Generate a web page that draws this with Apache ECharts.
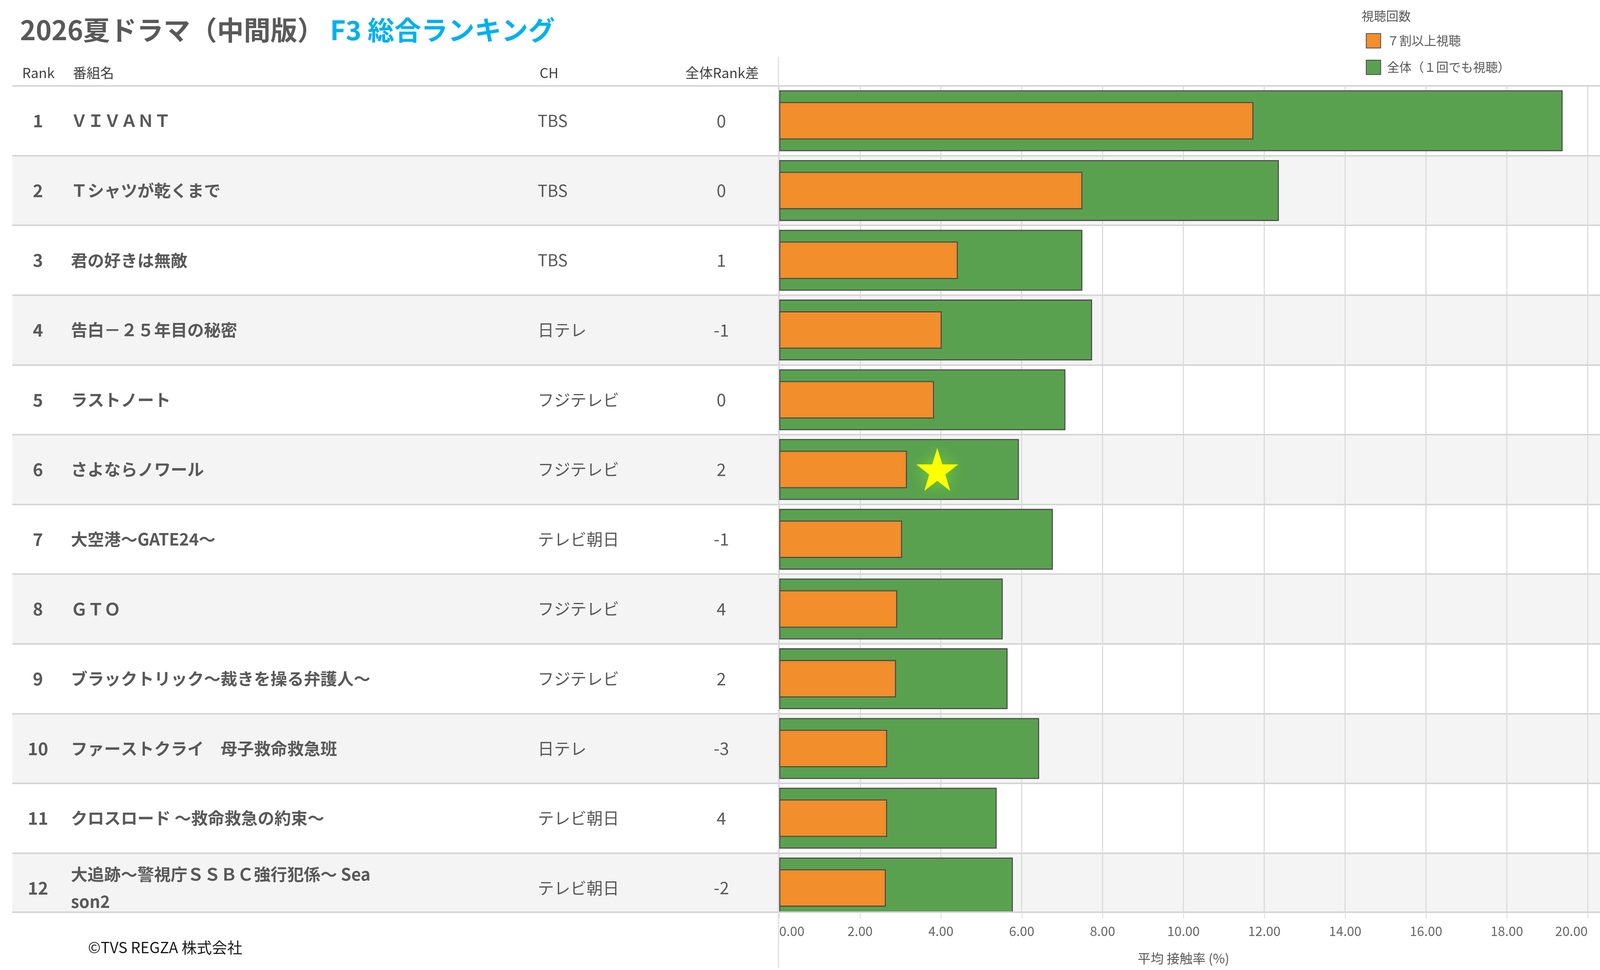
<!DOCTYPE html>
<html>
<head>
<meta charset="utf-8" />
<title>2026夏ドラマ（中間版） F3 総合ランキング</title>
<script src="https://cdn.jsdelivr.net/npm/echarts@6/dist/echarts.min.js"></script>
<style>html,body{margin:0;padding:0;background:#fff;overflow:hidden;}</style>
</head>
<body>
<div id="main" style="width:100vw;height:100vh"></div>
<script type="text/javascript">
// table columns
var ranks = ['1', '2', '3', '4', '5', '6', '7', '8', '9', '10', '11', '12'];
var names = [
  'ＶＩＶＡＮＴ',
  'Ｔシャツが乾くまで',
  '君の好きは無敵',
  '告白－２５年目の秘密',
  'ラストノート',
  'さよならノワール',
  '大空港～GATE24～',
  'ＧＴＯ',
  'ブラックトリック～裁きを操る弁護人～',
  'ファーストクライ　母子救命救急班',
  'クロスロード ～救命救急の約束～',
  '大追跡～警視庁ＳＳＢＣ強行犯係～ Sea\nson2'
];
var channels = ['TBS', 'TBS', 'TBS', '日テレ', 'フジテレビ', 'フジテレビ', 'テレビ朝日', 'フジテレビ', 'フジテレビ', '日テレ', 'テレビ朝日', 'テレビ朝日'];
var rankDiff = ['0', '0', '1', '-1', '0', '2', '-1', '4', '2', '-3', '4', '-2'];
var headerLabels = ['Rank', '番組名', 'CH', '全体Rank差'];

// 平均接触率 (%)
var seriesNames = ['７割以上視聴', '全体（１回でも視聴）'];
var freqRate = [11.73, 7.50, 4.42, 4.02, 3.83, 3.16, 3.04, 2.92, 2.89, 2.67, 2.67, 2.64];
var totalRate = [19.38, 12.36, 7.50, 7.74, 7.08, 5.93, 6.77, 5.53, 5.65, 6.43, 5.38, 5.78];
var starRank = ['6'];
var starValue = [3.91];

var FONT = "'Noto Sans CJK JP', 'Noto Sans', sans-serif";
var TEXT = '#595959';

var dom = document.getElementById('main');
var myChart = echarts.init(dom);

// layout was measured on a 4425 x 2484 picture, scale it to whatever we got
var W = dom.clientWidth, H = dom.clientHeight;
var sx = W / 4425, sy = H / 2484, sf = Math.min(sx, sy);
function X(v) { return v * sx; }
function Y(v) { return v * sy; }
function F(v) { return Math.round(v * sf * 10) / 10; }

var ROW_TOP = Y(220), ROW_H = Y(178.6);
var gridH = ROW_H * ranks.length;
var CUT_Y = Y(2336); // the view is cut off inside the last row

function labelAxis(margin, align, list, style) {
  return {
    type: 'category', gridIndex: 0, position: 'left', inverse: true, data: ranks,
    axisLine: { show: false }, axisTick: { show: false }, splitLine: { show: false },
    axisLabel: Object.assign({
      inside: true, interval: 0, margin: X(margin), align: align, color: TEXT, fontFamily: FONT,
      formatter: function (v, i) { return list[i]; }
    }, style)
  };
}

var rankAxis = labelAxis(71, 'center', ranks, { fontSize: F(48), fontWeight: 'bold' });
rankAxis.splitArea = { show: true, areaStyle: { color: ['#ffffff', '#f4f4f4'] } };
rankAxis.splitLine = { show: true, lineStyle: { color: '#d5d5d5', width: Y(4) } };

var headerLeft = [56, 196, 1487, 1890];
var titles = [{
  text: '{a|2026夏ドラマ（中間版）}{b| F3 総合ランキング}',
  left: X(50), top: Y(38),
  textStyle: { rich: {
    a: { fontSize: F(74), fontWeight: 'bold', color: '#595959', fontFamily: FONT },
    b: { fontSize: F(74), fontWeight: 'bold', color: '#00b0f0', fontFamily: FONT }
  } }
}, {
  text: '視聴回数', left: X(3760), top: Y(20),
  textStyle: { fontSize: F(34), fontWeight: 'normal', color: TEXT, fontFamily: FONT }
}, {
  text: '©TVS REGZA 株式会社', left: X(238), top: Y(2402),
  textStyle: { fontSize: F(42), fontWeight: 'normal', color: '#1a1a1a', fontFamily: FONT }
}];
headerLabels.forEach(function (h, i) {
  titles.push({
    text: h, left: X(headerLeft[i]), top: Y(164),
    textStyle: { fontSize: F(38), fontWeight: 'normal', color: '#404040', fontFamily: FONT }
  });
});

var option = {
  animation: false,
  backgroundColor: '#ffffff',
  textStyle: { fontFamily: FONT },
  title: titles,
  legend: {
    data: seriesNames,
    orient: 'vertical', left: X(3772), top: Y(80),
    icon: 'rect', itemWidth: F(40), itemHeight: F(40), itemGap: Y(29),
    textStyle: { fontSize: F(34), color: TEXT, fontFamily: FONT, padding: [0, 0, 0, X(12)] }
  },
  grid: [
    { left: X(34), right: 0, top: ROW_TOP, height: gridH },
    { left: X(2155), right: X(34), top: ROW_TOP, height: gridH }
  ],
  xAxis: [
    { type: 'value', gridIndex: 0, show: false },
    {
      type: 'value', gridIndex: 1, position: 'top', min: 0, max: 20, interval: 2,
      axisLine: { show: false }, axisTick: { show: false }, axisLabel: { show: false },
      splitLine: { show: true, lineStyle: { color: '#dadada', width: X(3) } }
    },
    {
      type: 'value', gridIndex: 1, position: 'bottom', min: 0, max: 20, interval: 2,
      offset: CUT_Y - (ROW_TOP + gridH), z: 200,
      name: '平均 接触率 (%)', nameLocation: 'middle', nameGap: Y(102),
      nameTextStyle: { fontSize: F(36), color: TEXT, fontFamily: FONT },
      axisLine: { show: false },
      axisTick: { show: true, length: Y(16), lineStyle: { color: '#dadada', width: X(2) } },
      splitLine: { show: false },
      axisLabel: {
        fontSize: F(36), color: '#666666', margin: Y(32), fontFamily: FONT,
        alignMinLabel: 'left', alignMaxLabel: 'right',
        formatter: function (v) { return v.toFixed(2); }
      }
    }
  ],
  yAxis: [
    rankAxis,
    labelAxis(162, 'left', names, { fontSize: F(46), fontWeight: 'bold', lineHeight: Y(70) }),
    labelAxis(1453, 'left', channels, { fontSize: F(45) }),
    labelAxis(1961, 'center', rankDiff, { fontSize: F(47) }),
    { type: 'category', gridIndex: 1, position: 'left', inverse: true, data: ranks, show: false },
    { type: 'category', gridIndex: 1, position: 'left', inverse: true, data: ranks, show: false }
  ],
  series: [
    {
      name: seriesNames[1], type: 'bar', xAxisIndex: 1, yAxisIndex: 4,
      barWidth: Y(156),
      itemStyle: { color: '#59a14f', borderColor: '#4d4d4d', borderWidth: F(3) },
      data: totalRate
    },
    {
      name: seriesNames[0], type: 'bar', xAxisIndex: 1, yAxisIndex: 5,
      barWidth: Y(96),
      itemStyle: { color: '#f28e2b', borderColor: '#4d4d4d', borderWidth: F(3) },
      data: freqRate
    },
    {
      type: 'scatter', xAxisIndex: 1, yAxisIndex: 5, z: 5,
      symbol: 'path://M50,0 L61.8,35.1 L98.9,35.1 L68.9,56.8 L80.3,91.9 L50,70.2 L19.7,91.9 L31.1,56.8 L1.1,35.1 L38.2,35.1 Z',
      symbolSize: [X(116), Y(110)],
      itemStyle: { color: '#ffff00', opacity: 1, shadowBlur: F(40), shadowColor: 'rgba(120,215,50,0.9)' },
      data: starValue.map(function (v, i) { return [v, starRank[i]]; })
    }
  ],
  graphic: [
    // white strip hides the part of the last row below the cut
    { type: 'rect', z: 100, silent: true, shape: { x: X(34), y: CUT_Y + Y(2), width: W, height: Y(40) }, style: { fill: '#ffffff' } },
    { type: 'line', z: 101, silent: true, shape: { x1: X(34), y1: CUT_Y, x2: W, y2: CUT_Y }, style: { stroke: '#d5d5d5', lineWidth: Y(4) } },
    { type: 'line', z: 101, silent: true, shape: { x1: X(2153), y1: Y(145), x2: X(2153), y2: Y(2478) }, style: { stroke: '#dcdcdc', lineWidth: X(3) } }
  ]
};

myChart.setOption(option);
window.addEventListener('resize', function () {
  myChart.resize();
});
</script>
</body>
</html>
